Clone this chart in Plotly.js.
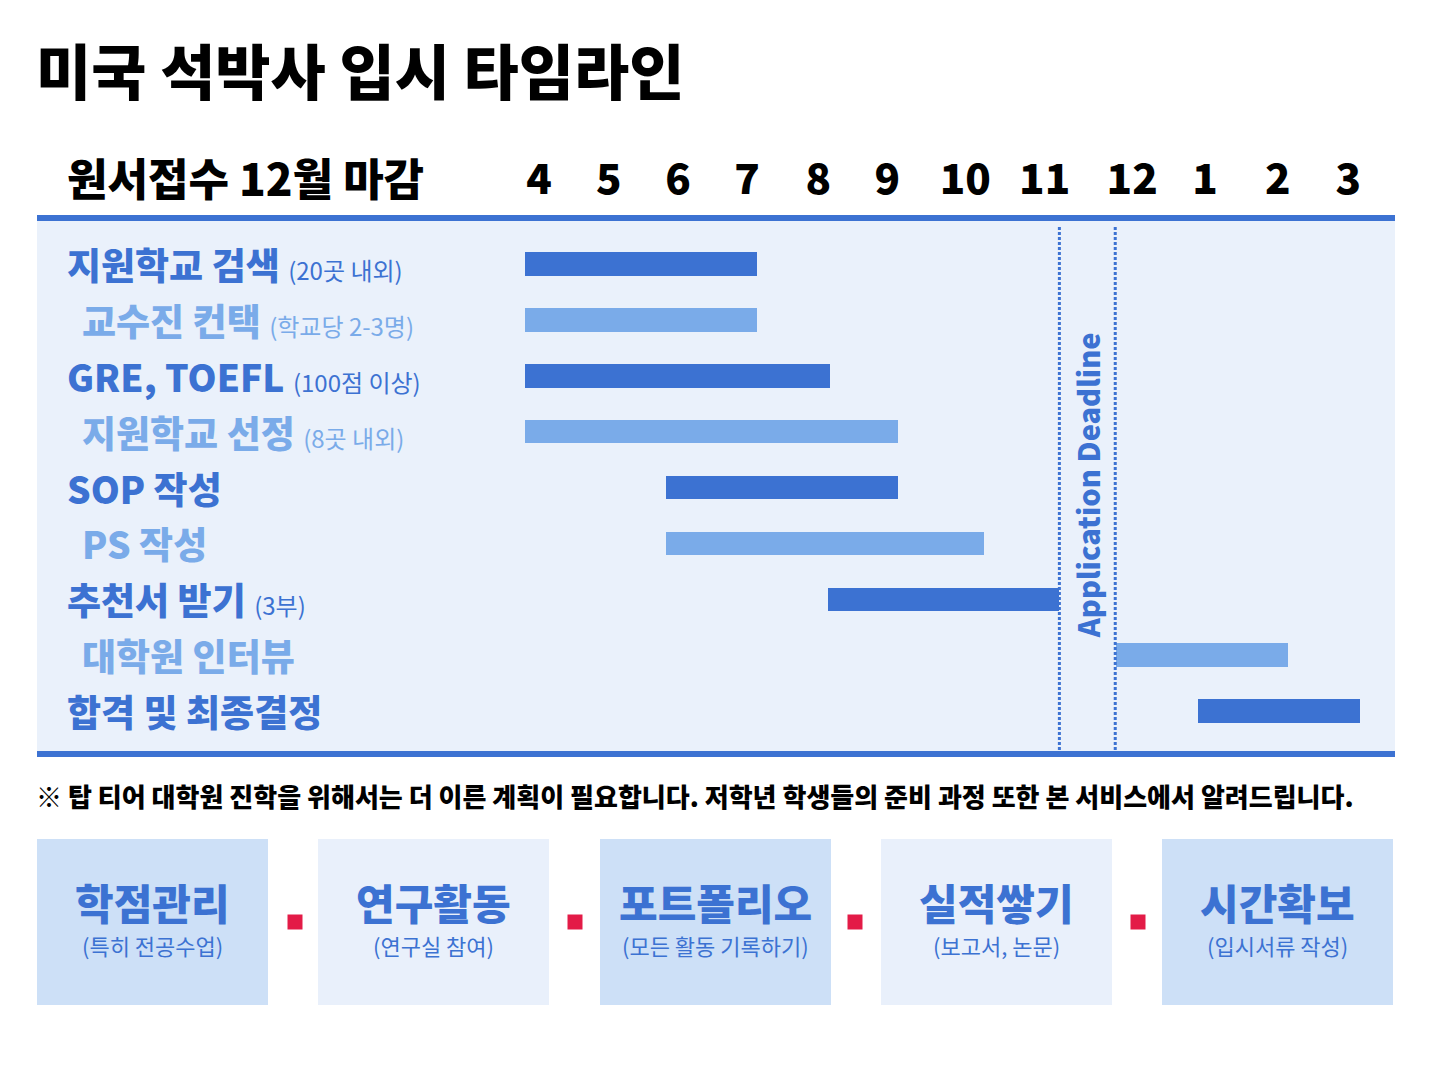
<!DOCTYPE html>
<html>
<head>
<meta charset="utf-8">
<script src="https://cdn.plot.ly/plotly-3.0.1.min.js"></script>
<style>
  html, body { margin: 0; padding: 0; background: #ffffff; }
  #chart { width: 1430px; height: 1073px; }
</style>
</head>
<body>
<div id="chart"></div>
<script>
// ---------------- data ----------------
const chartTitle = '미국 석박사 입시 타임라인';
const headerLabel = '원서접수 12월 마감';
const monthLabels = ['4', '5', '6', '7', '8', '9', '10', '11', '12', '1', '2', '3'];
const monthPos = [4.00, 4.95, 5.89, 6.83, 7.80, 8.74, 9.80, 10.88, 12.07, 13.06, 14.05, 15.01];
const tasks = ['지원학교 검색', '교수진 컨택', 'GRE, TOEFL', '지원학교 선정', 'SOP 작성', 'PS 작성', '추천서 받기', '대학원 인터뷰', '합격 및 최종결정'];
const taskNotes = ['(20곳 내외)', '(학교당 2-3명)', '(100점 이상)', '(8곳 내외)', '', '', '(3부)', '', ''];
const taskStart = [3.81, 3.81, 3.81, 3.81, 5.73, 5.73, 7.93, 11.85, 12.97];
const taskEnd = [6.97, 6.97, 7.96, 8.88, 8.88, 10.05, 11.08, 14.19, 15.17];
const deadlineBounds = [11.08, 11.84];
const deadlineLabel = 'Application Deadline';
const footnote = '※ 탑 티어 대학원 진학을 위해서는 더 이른 계획이 필요합니다. 저학년 학생들의 준비 과정 또한 본 서비스에서 알려드립니다.';
const pillars = ['학점관리', '연구활동', '포트폴리오', '실적쌓기', '시간확보'];
const pillarNotes = ['(특히 전공수업)', '(연구실 참여)', '(모든 활동 기록하기)', '(보고서, 논문)', '(입시서류 작성)'];

// ---------------- styles ----------------
const W = 1430, H = 1073;
const FONT = '"Noto Sans CJK KR", "Noto Sans", sans-serif';
const DARK = '#3c72d2';
const LIGHT = '#7aabe9';
const PANEL = '#eaf1fb';
const BOX_STRONG = '#cde0f7';
const BOX_SOFT = '#e9f0fb';
const RED = '#e31b47';
const px = x => x / W;
const py = y => 1 - y / H;

// x mapping (month scale) chosen so the plot area spans the panel
const unitPx = 73.5, originPx = 539, originVal = 4;
const xr = [originVal + (37 - originPx) / unitPx, originVal + (1395 - originPx) / unitPx];

const colors = tasks.map((t, i) => i % 2 === 0 ? DARK : LIGHT);

const traces = [{
  type: 'bar',
  orientation: 'h',
  y: tasks,
  x: taskEnd.map((e, i) => e - taskStart[i]),
  base: taskStart,
  width: 0.42,
  marker: { color: colors, line: { width: 0 } },
  hoverinfo: 'skip',
  showlegend: false
}];

const shapes = [];
// top / bottom rules of panel
shapes.push({ type: 'rect', xref: 'paper', yref: 'paper', x0: px(37), x1: px(1395), y0: py(221), y1: py(215), fillcolor: DARK, line: { width: 0 }, layer: 'above' });
shapes.push({ type: 'rect', xref: 'paper', yref: 'paper', x0: px(37), x1: px(1395), y0: py(757), y1: py(751), fillcolor: DARK, line: { width: 0 }, layer: 'above' });
// deadline dotted lines
deadlineBounds.forEach(v => {
  shapes.push({ type: 'line', xref: 'x', yref: 'paper', x0: v, x1: v, y0: py(750), y1: py(225), line: { color: DARK, width: 3, dash: '3px,2px' }, layer: 'above' });
});

// bottom boxes
const boxX = [37, 318, 600, 881, 1162];
const boxW = 231;
boxX.forEach((x, i) => {
  shapes.push({ type: 'rect', xref: 'paper', yref: 'paper', x0: px(x), x1: px(x + boxW), y0: py(1005), y1: py(839), fillcolor: i % 2 === 0 ? BOX_STRONG : BOX_SOFT, line: { width: 0 } });
});
const sqX = [295, 575, 855, 1138];
sqX.forEach(cx => {
  shapes.push({ type: 'rect', xref: 'paper', yref: 'paper', x0: px(cx - 7.5), x1: px(cx + 7.5), y0: py(929.5), y1: py(914.5), fillcolor: RED, line: { width: 0 } });
});

const annotations = [];
annotations.push({ xref: 'paper', yref: 'paper', x: px(34), y: py(68), xanchor: 'left', yanchor: 'middle', showarrow: false, text: chartTitle, font: { family: FONT, size: 60, color: '#000000', weight: 900 } });
annotations.push({ xref: 'paper', yref: 'paper', x: px(65), y: py(177), xanchor: 'left', yanchor: 'middle', showarrow: false, text: headerLabel, font: { family: FONT, size: 44, color: '#000000', weight: 900 } });

tasks.forEach((t, i) => {
  const note = taskNotes[i] ? ' <span style="font-weight:400;font-size:24px">' + taskNotes[i] + '</span>' : '';
  annotations.push({
    xref: 'paper', yref: 'y', x: px(i % 2 === 0 ? 65 : 80), y: t, xanchor: 'left', yanchor: 'middle', showarrow: false,
    text: t + note,
    font: { family: FONT, size: 37, color: colors[i], weight: 900 }
  });
});

annotations.push({
  xref: 'x', yref: 'paper', x: (deadlineBounds[0] + deadlineBounds[1]) / 2, y: py(485), xanchor: 'center', yanchor: 'middle',
  showarrow: false, textangle: -90, text: deadlineLabel,
  font: { family: FONT, size: 29, color: DARK, weight: 900 }
});

annotations.push({ xref: 'paper', yref: 'paper', x: px(34), y: py(795), xanchor: 'left', yanchor: 'middle', showarrow: false, text: footnote, font: { family: FONT, size: 26, color: '#000000', weight: 900 } });

pillars.forEach((p, i) => {
  const cx = boxX[i] + boxW / 2;
  annotations.push({ xref: 'paper', yref: 'paper', x: px(cx), y: py(901), xanchor: 'center', yanchor: 'middle', showarrow: false, text: p, font: { family: FONT, size: 42, color: DARK, weight: 900 } });
  annotations.push({ xref: 'paper', yref: 'paper', x: px(cx), y: py(945), xanchor: 'center', yanchor: 'middle', showarrow: false, text: pillarNotes[i], font: { family: FONT, size: 22, color: DARK, weight: 400 } });
});

const layout = {
  width: W, height: H, autosize: false,
  margin: { l: 0, r: 0, t: 0, b: 0, pad: 0 },
  paper_bgcolor: '#ffffff',
  plot_bgcolor: PANEL,
  font: { family: FONT },
  bargap: 0,
  xaxis: {
    domain: [px(37), px(1395)],
    range: xr,
    side: 'top',
    tickmode: 'array',
    tickvals: monthPos,
    ticktext: monthLabels,
    ticks: '',
    ticklabelstandoff: 18,
    tickfont: { family: FONT, size: 42, color: '#000000', weight: 900 },
    showgrid: false, zeroline: false, showline: false, fixedrange: true
  },
  yaxis: {
    domain: [py(751), py(221)],
    type: 'category',
    categoryorder: 'array',
    categoryarray: tasks,
    range: [8.716, -0.770],
    showticklabels: false, ticks: '',
    showgrid: false, zeroline: false, showline: false, fixedrange: true
  },
  shapes: shapes,
  annotations: annotations
};

Plotly.newPlot('chart', traces, layout, { displayModeBar: false, staticPlot: true });
</script>
</body>
</html>
